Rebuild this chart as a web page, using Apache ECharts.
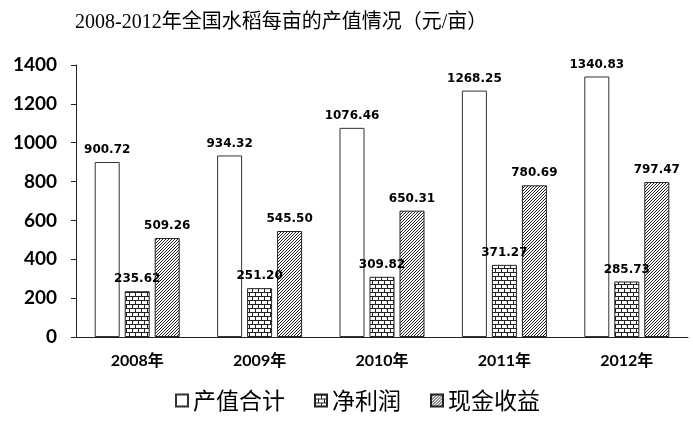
<!DOCTYPE html>
<html>
<head>
<meta charset="utf-8">
<script src="https://cdn.jsdelivr.net/npm/echarts@6/dist/echarts.min.js"></script>
<style>
html,body{margin:0;padding:0;background:#fff;}
#main{width:693px;height:423px;}
</style>
</head>
<body>
<div id="main"></div>
<script>
// 数据
var years = ['2008年', '2009年', '2010年', '2011年', '2012年'];
var chanzhi = [900.72, 934.32, 1076.46, 1268.25, 1340.83];   // 产值合计
var jinglirun = [235.62, 251.20, 309.82, 371.27, 285.73];    // 净利润
var xianjin = [509.26, 545.50, 650.31, 780.69, 797.47];      // 现金收益
var seriesNames = ['产值合计', '净利润', '现金收益'];

// 砖块填充
function brickPattern() {
    var c = document.createElement('canvas');
    c.width = 12; c.height = 8;
    var ctx = c.getContext('2d');
    ctx.fillStyle = '#fff';
    ctx.fillRect(0, 0, 12, 8);
    ctx.fillStyle = '#222';
    ctx.fillRect(0, 0, 12, 1);
    ctx.fillRect(0, 4, 12, 1);
    ctx.fillRect(0, 0, 1, 4);
    ctx.fillRect(6, 0, 1, 4);
    ctx.fillRect(3, 4, 1, 4);
    ctx.fillRect(9, 4, 1, 4);
    return c;
}
// 斜线填充
function hatchPattern() {
    var c = document.createElement('canvas');
    c.width = 3; c.height = 3;
    var ctx = c.getContext('2d');
    ctx.fillStyle = '#fff';
    ctx.fillRect(0, 0, 3, 3);
    ctx.fillStyle = '#222';
    for (var i = 0; i < 3; i++) {
        ctx.fillRect(i, 2 - i, 1, 1);
    }
    return c;
}

var labelStyle = {
    show: true,
    position: 'top',
    distance: 6,
    color: '#000',
    fontFamily: 'DejaVu Sans',
    fontWeight: 'bold',
    fontSize: 12,
    formatter: function (p) { return p.value.toFixed(2); }
};

var myChart = echarts.init(document.getElementById('main'));
var options = {
    backgroundColor: '#fff',
    animation: false,
    title: {
        text: '2008-2012年全国水稻每亩的产值情况（元/亩）',
        left: 70,
        top: 8,
        textStyle: {
            fontFamily: 'Liberation Serif, Noto Sans CJK SC',
            fontWeight: 'normal',
            fontSize: 20,
            color: '#000'
        }
    },
    legend: {
        data: seriesNames,
        left: 170,
        top: 384,
        itemWidth: 12,
        itemHeight: 12,
        itemGap: 29,
        icon: 'rect',
        textStyle: {
            fontFamily: 'Noto Sans CJK SC',
            fontSize: 23,
            color: '#000'
        }
    },
    grid: {
        left: 76,
        right: 5,
        top: 65,
        bottom: 86
    },
    xAxis: {
        type: 'category',
        data: years,
        axisLine: { lineStyle: { color: '#222', width: 1 } },
        axisTick: { inside: true, length: 5, lineStyle: { color: '#222' } },
        axisLabel: {
            margin: 16,
            color: '#000',
            fontFamily: 'Lato, Noto Sans CJK SC',
            fontWeight: 'bold',
            fontSize: 16
        }
    },
    yAxis: {
        type: 'value',
        min: 0,
        max: 1400,
        interval: 200,
        splitLine: { show: false },
        axisLine: { show: true, lineStyle: { color: '#222', width: 1 } },
        axisTick: { show: true, length: 5, lineStyle: { color: '#222' } },
        axisLabel: {
            margin: 19,
            color: '#000',
            fontFamily: 'Lato',
            fontWeight: 'bold',
            fontSize: 19,
            formatter: function (v) { return String(v); }
        }
    },
    series: [{
        name: seriesNames[0],
        type: 'bar',
        data: chanzhi,
        barWidth: 25,
        barGap: '20%',
        itemStyle: { color: '#fff', borderColor: '#333', borderWidth: 1 },
        label: labelStyle
    }, {
        name: seriesNames[1],
        type: 'bar',
        data: jinglirun,
        barWidth: 25,
        barGap: '20%',
        itemStyle: { color: { image: brickPattern(), repeat: 'repeat' }, borderColor: '#222', borderWidth: 1 },
        label: labelStyle
    }, {
        name: seriesNames[2],
        type: 'bar',
        data: xianjin,
        barWidth: 25,
        barGap: '20%',
        itemStyle: { color: { image: hatchPattern(), repeat: 'repeat' }, borderColor: '#222', borderWidth: 1 },
        label: labelStyle
    }]
};
myChart.setOption(options);
</script>
</body>
</html>
